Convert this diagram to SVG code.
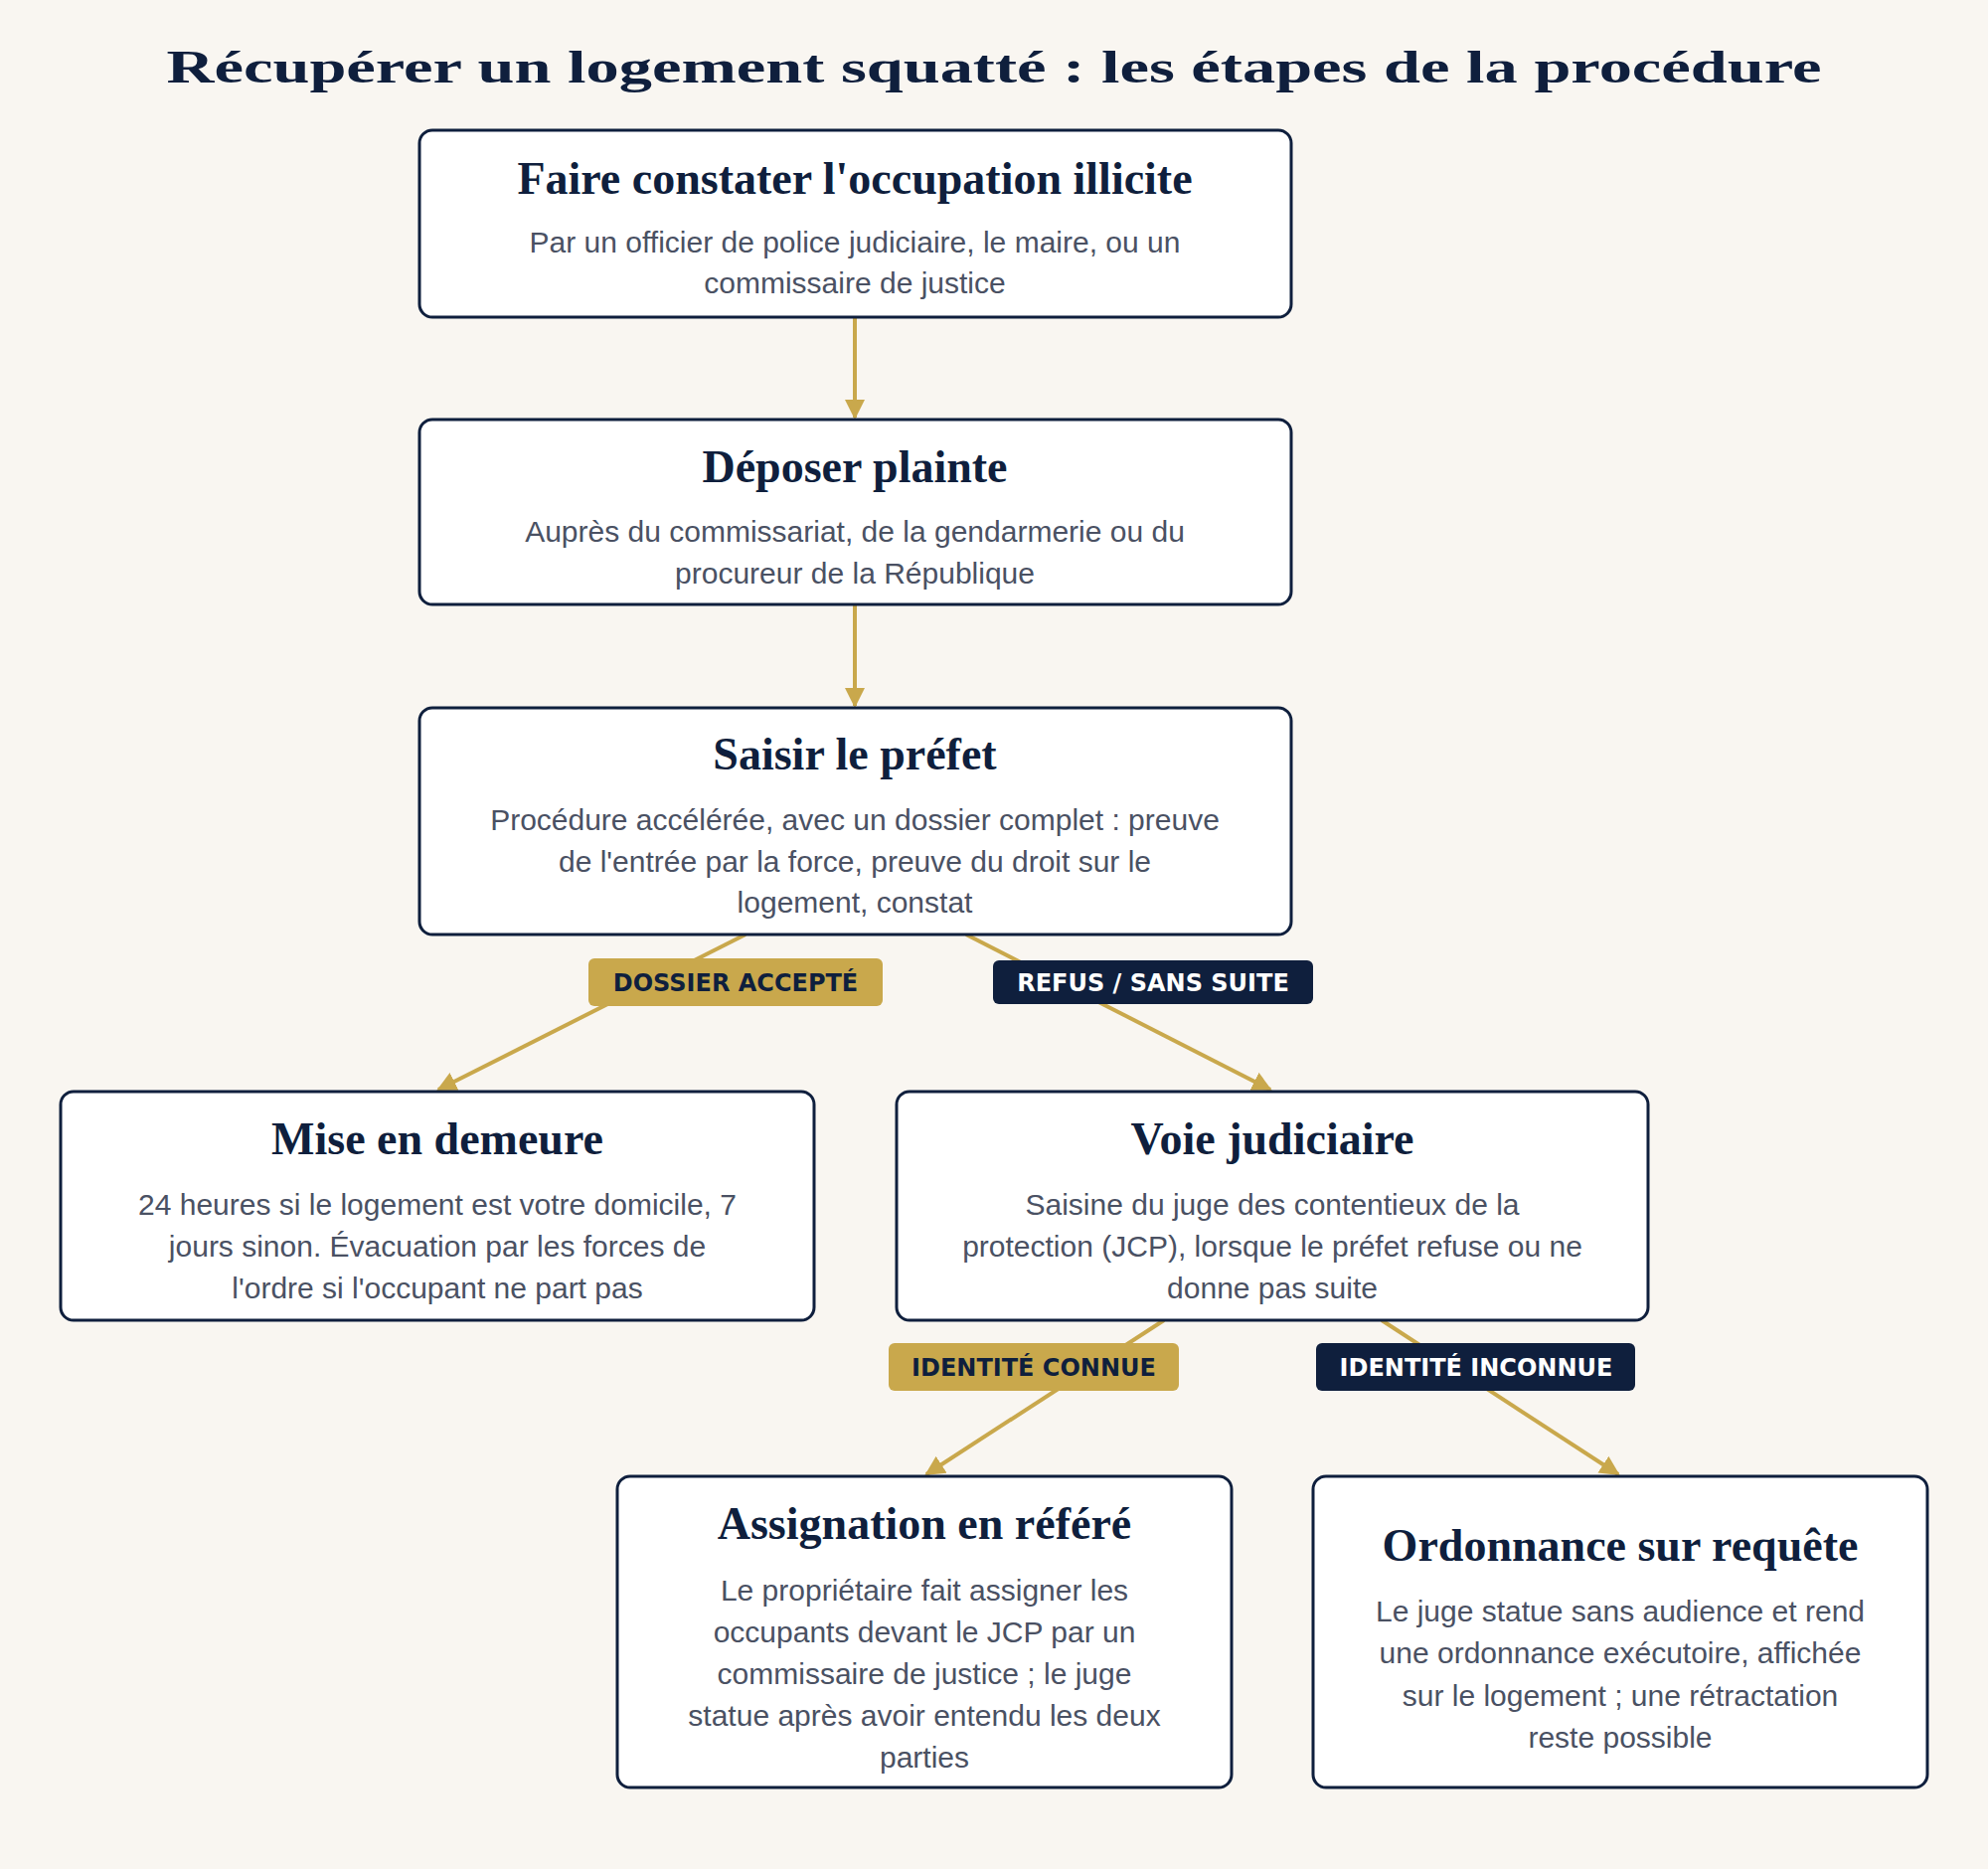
<svg xmlns="http://www.w3.org/2000/svg" width="2000" height="1880" viewBox="0 0 2000 1880">
<defs>
<style>
.box{fill:#fff;stroke:#0f1f3d;stroke-width:3}
.t{font-family:"Liberation Serif","DejaVu Serif",serif;font-weight:bold;font-size:46px;fill:#0f1f3d;text-anchor:middle}
.b{font-family:"Liberation Sans",Arial,sans-serif;font-size:30px;fill:#4a5163;text-anchor:middle}
.c{stroke:#c9a84c;stroke-width:4;fill:none;marker-end:url(#ah)}
.l{font-family:"DejaVu Sans","Liberation Sans",sans-serif;font-weight:bold;font-size:24px;text-anchor:middle}
</style>
<marker id="ah" viewBox="0 0 10 10" refX="9" refY="5" markerWidth="5" markerHeight="5" orient="auto"><path d="M0,0L10,5L0,10z" fill="#c9a84c"/></marker>
</defs>
<rect width="2000" height="1880" fill="#f9f6f1"/>
<text x="1000" y="83" class="t" font-size="68" textLength="1665" lengthAdjust="spacingAndGlyphs">Récupérer un logement squatté : les étapes de la procédure</text>
<g id="connectors">
<line class="c" x1="860" y1="319" x2="860" y2="420"/>
<line class="c" x1="860" y1="608" x2="860" y2="710"/>
<line class="c" x1="750" y1="940" x2="441" y2="1096"/>
<line class="c" x1="972" y1="940" x2="1278" y2="1096"/>
<line class="c" x1="1171" y1="1328" x2="932" y2="1483"/>
<line class="c" x1="1390" y1="1328" x2="1628" y2="1483"/>
<g id="lbl1"><rect x="592" y="964" width="296" height="48" rx="6" fill="#c9a84c"/><text x="740" y="997" class="l" fill="#0f1f3d">DOSSIER ACCEPTÉ</text></g>
<g id="lbl2"><rect x="999" y="966" width="322" height="44" rx="6" fill="#0f1f3d"/><text x="1160" y="997" class="l" fill="#fff">REFUS / SANS SUITE</text></g>
<g id="lbl3"><rect x="894" y="1351" width="292" height="48" rx="6" fill="#c9a84c"/><text x="1040" y="1384" class="l" fill="#0f1f3d">IDENTITÉ CONNUE</text></g>
<g id="lbl4"><rect x="1324" y="1351" width="321" height="48" rx="6" fill="#0f1f3d"/><text x="1485" y="1384" class="l" fill="#fff">IDENTITÉ INCONNUE</text></g>
</g>
<g id="n1"><rect class="box" x="422" y="131" width="877" height="188" rx="13"/>
<text class="t" x="860" y="195">Faire constater l'occupation illicite</text>
<text class="b" x="860" y="254">Par un officier de police judiciaire, le maire, ou un</text>
<text class="b" x="860" y="295">commissaire de justice</text></g>
<g id="n2"><rect class="box" x="422" y="422" width="877" height="186" rx="13"/>
<text class="t" x="860" y="485">Déposer plainte</text>
<text class="b" x="860" y="545">Auprès du commissariat, de la gendarmerie ou du</text>
<text class="b" x="860" y="587">procureur de la République</text></g>
<g id="n3"><rect class="box" x="422" y="712" width="877" height="228" rx="13"/>
<text class="t" x="860" y="774">Saisir le préfet</text>
<text class="b" x="860" y="835">Procédure accélérée, avec un dossier complet : preuve</text>
<text class="b" x="860" y="877">de l'entrée par la force, preuve du droit sur le</text>
<text class="b" x="860" y="918">logement, constat</text></g>
<g id="n4"><rect class="box" x="61" y="1098" width="758" height="230" rx="13"/>
<text class="t" x="440" y="1161">Mise en demeure</text>
<text class="b" x="440" y="1222">24 heures si le logement est votre domicile, 7</text>
<text class="b" x="440" y="1264">jours sinon. Évacuation par les forces de</text>
<text class="b" x="440" y="1306">l'ordre si l'occupant ne part pas</text></g>
<g id="n5"><rect class="box" x="902" y="1098" width="756" height="230" rx="13"/>
<text class="t" x="1280" y="1161">Voie judiciaire</text>
<text class="b" x="1280" y="1222">Saisine du juge des contentieux de la</text>
<text class="b" x="1280" y="1264">protection (JCP), lorsque le préfet refuse ou ne</text>
<text class="b" x="1280" y="1306">donne pas suite</text></g>
<g id="n6"><rect class="box" x="621" y="1485" width="618" height="313" rx="13"/>
<text class="t" x="930" y="1548">Assignation en référé</text>
<text class="b" x="930" y="1610">Le propriétaire fait assigner les</text>
<text class="b" x="930" y="1652">occupants devant le JCP par un</text>
<text class="b" x="930" y="1694">commissaire de justice ; le juge</text>
<text class="b" x="930" y="1736">statue après avoir entendu les deux</text>
<text class="b" x="930" y="1778">parties</text></g>
<g id="n7"><rect class="box" x="1321" y="1485" width="618" height="313" rx="13"/>
<text class="t" x="1630" y="1570">Ordonnance sur requête</text>
<text class="b" x="1630" y="1631">Le juge statue sans audience et rend</text>
<text class="b" x="1630" y="1673">une ordonnance exécutoire, affichée</text>
<text class="b" x="1630" y="1716">sur le logement ; une rétractation</text>
<text class="b" x="1630" y="1758">reste possible</text></g>
</svg>
